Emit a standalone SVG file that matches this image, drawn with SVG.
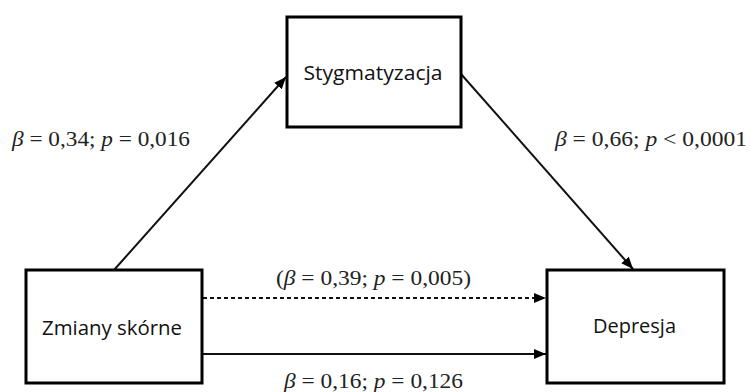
<svg xmlns="http://www.w3.org/2000/svg" width="751" height="392" viewBox="0 0 751 392">
  <style>
    .box { fill: #ffffff; stroke: #000000; stroke-width: 3; }
    .name { font-family: "Open Sans", "Noto Sans", sans-serif; font-size: 20px; fill: #111111; text-anchor: middle; }
    .edge { stroke: #111111; stroke-width: 2; fill: none; }
    .dashed { stroke-dasharray: 4 3; }
    .stat { font-family: "Liberation Serif", serif; font-size: 21px; fill: #222222; }
    .it { font-style: italic; }
  </style>
  <defs>
    <marker id="head" markerUnits="userSpaceOnUse" markerWidth="12" markerHeight="10" refX="12" refY="5" orient="auto">
      <path d="M0,0 L12,5 L0,10 Z" fill="#000000"/>
    </marker>
  </defs>

  <rect width="751" height="392" fill="#ffffff"/>

  <!-- connectors -->
  <g id="connectors">
    <line class="edge" x1="114" y1="270" x2="286" y2="77" marker-end="url(#head)"/>
    <line class="edge" x1="461" y1="74" x2="633" y2="269" marker-end="url(#head)"/>
    <line class="edge dashed" x1="203" y1="298" x2="546" y2="298" marker-end="url(#head)"/>
    <line class="edge" x1="203" y1="354" x2="546" y2="354" marker-end="url(#head)"/>
  </g>

  <!-- path coefficients -->
  <g id="labels">
    <text class="stat" x="12" y="146" textLength="178" lengthAdjust="spacingAndGlyphs"><tspan class="it">β</tspan> = 0,34; <tspan class="it">p</tspan> = 0,016</text>
    <text class="stat" x="555" y="146" textLength="192" lengthAdjust="spacingAndGlyphs"><tspan class="it">β</tspan> = 0,66; <tspan class="it">p</tspan> &lt; 0,0001</text>
    <text class="stat" x="276" y="285" textLength="195" lengthAdjust="spacingAndGlyphs">(<tspan class="it">β</tspan> = 0,39; <tspan class="it">p</tspan> = 0,005)</text>
    <text class="stat" x="284" y="388" textLength="179" lengthAdjust="spacingAndGlyphs"><tspan class="it">β</tspan> = 0,16; <tspan class="it">p</tspan> = 0,126</text>
  </g>

  <g id="stygmatyzacja">
    <rect class="box" x="287" y="17" width="174" height="110"/>
    <text class="name" x="373" y="80" textLength="139" lengthAdjust="spacingAndGlyphs">Stygmatyzacja</text>
  </g>

  <g id="zmiany-skorne">
    <rect class="box" x="26" y="270" width="176" height="113"/>
    <text class="name" x="112" y="335" textLength="140" lengthAdjust="spacingAndGlyphs">Zmiany skórne</text>
  </g>

  <g id="depresja">
    <rect class="box" x="547" y="270" width="177" height="113"/>
    <text class="name" x="634.5" y="333" textLength="83" lengthAdjust="spacingAndGlyphs">Depresja</text>
  </g>
</svg>
